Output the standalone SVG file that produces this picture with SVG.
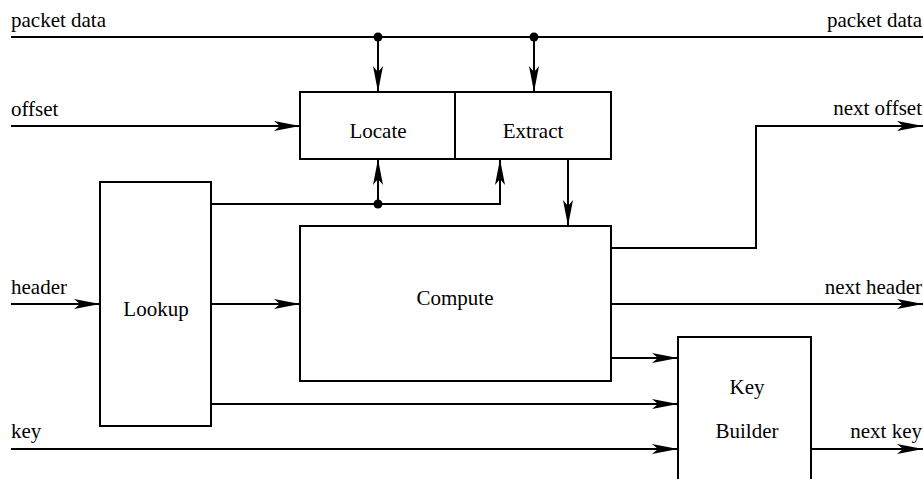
<svg xmlns="http://www.w3.org/2000/svg" width="923" height="479" viewBox="0 0 923 479">
<style>
.box{fill:#fff;stroke:#000;stroke-width:2}
.w{fill:none;stroke:#000;stroke-width:2}
text{font-family:"Liberation Serif","Times New Roman",serif;font-size:21px;fill:#000}
.c{text-anchor:middle}
.r{text-anchor:end}
</style>
<defs>
<marker id="a" viewBox="0 0 26 10" refX="26" refY="5" markerWidth="26" markerHeight="10" markerUnits="userSpaceOnUse" orient="auto">
<path d="M0,0 L26,5 L0,10 L6,5 Z" fill="#000"/>
</marker>
</defs>
<g id="connectors">
<path class="w" d="M11,37 H923"/>
<path class="w" d="M378,37 V92" marker-end="url(#a)"/>
<path class="w" d="M534,37 V92" marker-end="url(#a)"/>
<circle cx="378" cy="37" r="4.5"/>
<circle cx="534" cy="37" r="4.5"/>
<path class="w" d="M11,126 H300" marker-end="url(#a)"/>
<path class="w" d="M211,204 H500 V159" marker-end="url(#a)"/>
<path class="w" d="M378,204 V159" marker-end="url(#a)"/>
<circle cx="378" cy="204" r="4.5"/>
<path class="w" d="M568,159 V226" marker-end="url(#a)"/>
<path class="w" d="M611,248 H756 V126 H923" marker-end="url(#a)"/>
<path class="w" d="M11,304 H100" marker-end="url(#a)"/>
<path class="w" d="M211,304 H300" marker-end="url(#a)"/>
<path class="w" d="M611,304 H923" marker-end="url(#a)"/>
<path class="w" d="M611,358 H678" marker-end="url(#a)"/>
<path class="w" d="M211,404 H678" marker-end="url(#a)"/>
<path class="w" d="M11,449 H678" marker-end="url(#a)"/>
<path class="w" d="M811,449 H923" marker-end="url(#a)"/>
</g>
<g id="labels">
<text x="11" y="27">packet data</text>
<text x="922" y="27" class="r">packet data</text>
<text x="11" y="116">offset</text>
<text x="922" y="115" class="r">next offset</text>
<text x="11" y="294">header</text>
<text x="922" y="294" class="r">next header</text>
<text x="11" y="438">key</text>
<text x="922" y="438" class="r">next key</text>
</g>
<g id="locate">
<rect class="box" x="300" y="92" width="155" height="67"/>
<text x="378" y="138" class="c">Locate</text>
</g>
<g id="extract">
<rect class="box" x="455" y="92" width="156" height="67"/>
<text x="533" y="138" class="c">Extract</text>
</g>
<g id="lookup">
<rect class="box" x="100" y="182" width="111" height="244"/>
<text x="156" y="316" class="c">Lookup</text>
</g>
<g id="compute">
<rect class="box" x="300" y="226" width="311" height="155"/>
<text x="455" y="305" class="c">Compute</text>
</g>
<g id="keybuilder">
<rect class="box" x="678" y="337" width="133" height="150"/>
<text x="747" y="394" class="c">Key</text>
<text x="747" y="438" class="c">Builder</text>
</g>
</svg>
